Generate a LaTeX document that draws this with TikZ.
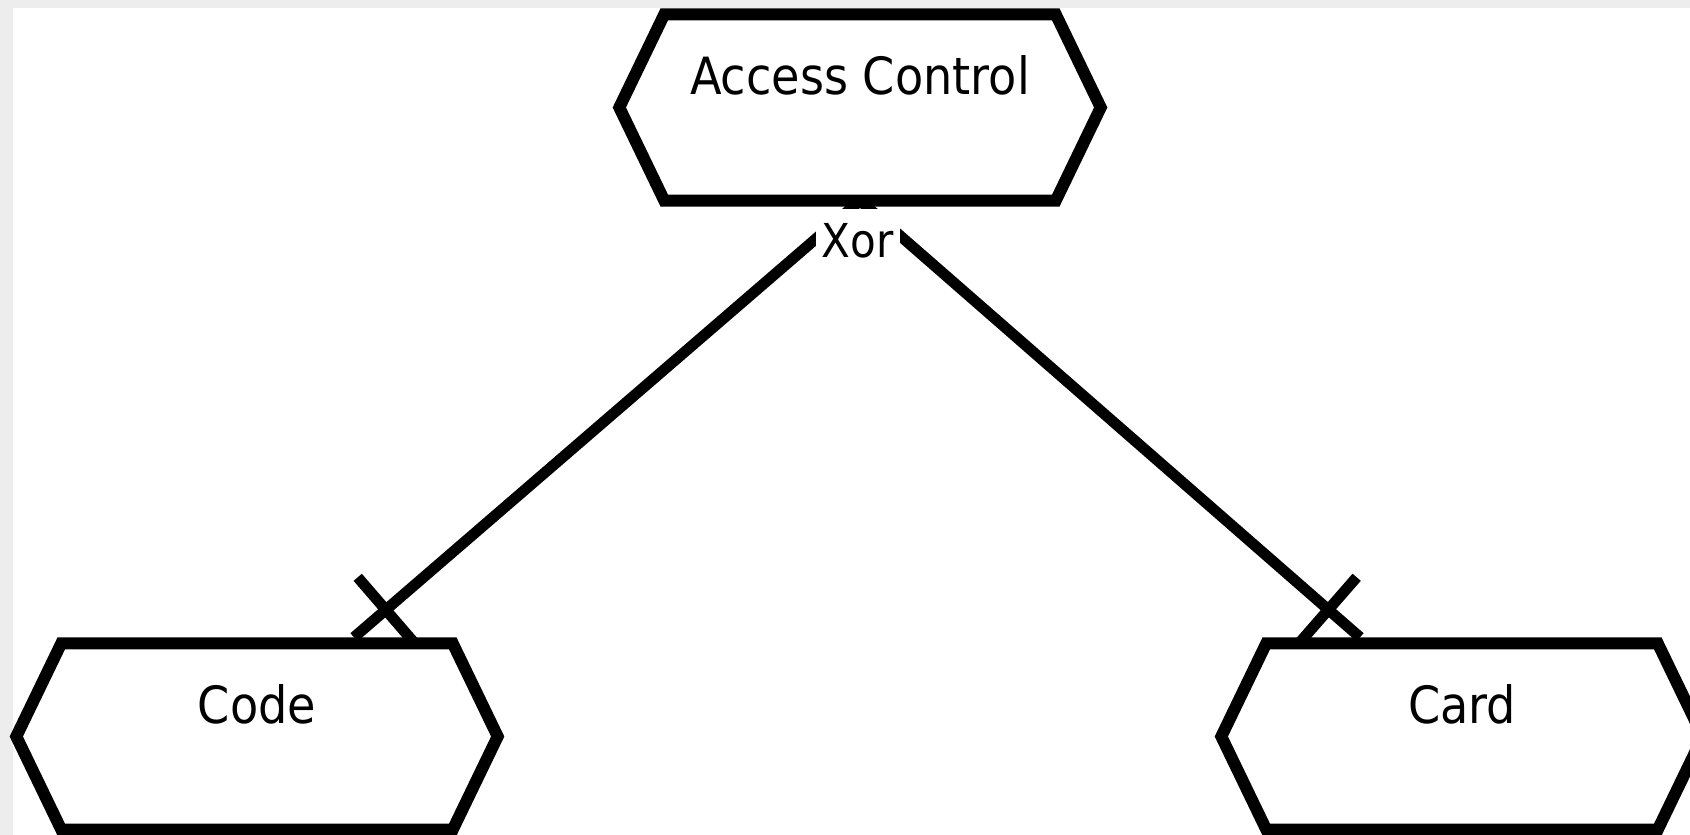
\documentclass[tikz,border=0pt]{standalone}
\usepackage{fontspec}
\setmainfont{DejaVu Sans}[FakeStretch=0.9]
\usepackage{tikz}
\usetikzlibrary{calc}

\tikzset{
  feature/.style={minimum width=3.9cm, inner sep=0pt, text height=0.80cm, text depth=1.05cm, font=\fontsize{14.6}{17}\selectfont},
  hexline/.style={line width=3.4pt},
  edge/.style={line width=3.1pt},
  group/.style={fill=white, inner sep=0pt, minimum width=0.84cm, text height=0.49cm, text depth=0.1cm, anchor=base, font=\fontsize{13.3}{15}\selectfont}
}

\begin{document}
\begin{tikzpicture}
	\fill[black!7] (0,0) rectangle (16.9,8.35);
	\fill[white] (0.13,0) rectangle (16.9,8.27);
	\useasboundingbox (0,0) rectangle (16.9,8.35);
	\node[feature] (root) at (8.60,7.275) {Access Control};
	\node[feature] (code) at (2.57,0.985) {Code};
	\node[feature] (card) at (14.62,0.985) {Card};
	\foreach \n in {root,code,card}
		\draw[hexline] (\n.north west) -- (\n.north east) -- ($(\n.east)+(0.45,0)$) -- (\n.south east) -- (\n.south west) -- ($(\n.west)+(-0.45,0)$) -- cycle;
	\coordinate (code end) at ($(code.north)+(0.97,0.06)$);
	\coordinate (card end) at ($(card.north)+(-1.02,0.06)$);
	\foreach \e in {code end,card end} {
		\draw[edge] (root.south) -- (\e);
		\coordinate (m) at ($(\e)!0.42cm!(root.south)$);
		\draw[edge] ($(m)!0.43cm!90:(\e)$) -- ($(m)!0.43cm!-90:(\e)$);
	}
	\node[group] (xor) at (8.575,5.77) {Xor};
\end{tikzpicture}
\end{document}
